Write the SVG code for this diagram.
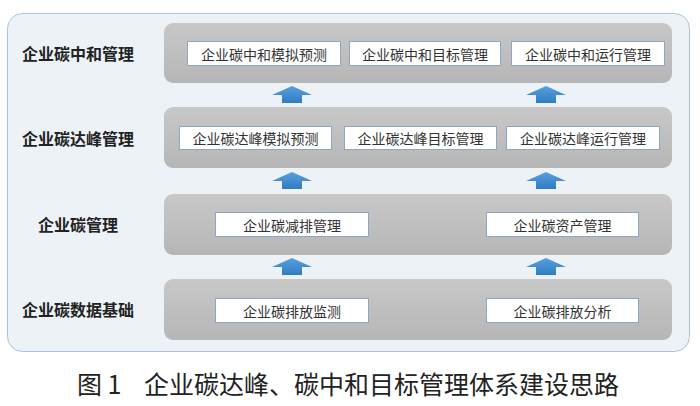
<svg xmlns="http://www.w3.org/2000/svg" width="700" height="406" viewBox="0 0 700 406">
<defs>
<linearGradient id="band" x1="0" y1="0" x2="0" y2="1">
<stop offset="0" stop-color="#c8c8c8"/>
<stop offset="1" stop-color="#b6b6b6"/>
</linearGradient>
<linearGradient id="arr" x1="0" y1="0" x2="0" y2="1">
<stop offset="0" stop-color="#5a9fdc"/>
<stop offset="1" stop-color="#2f7cc4"/>
</linearGradient>
<path id="up" d="M0,0 L20,9 L10,9 L10,17 L-10,17 L-10,9 L-20,9 Z" fill="url(#arr)"/>
</defs>
<style>
.band{fill:url(#band);}
.box{fill:#ffffff;stroke:#8fa6c0;stroke-width:1;}
.t{font-family:"Noto Sans CJK SC",sans-serif;font-size:14px;fill:#333;text-anchor:middle;dominant-baseline:central;}
.lab{font-family:"Noto Sans CJK SC",sans-serif;font-size:16px;font-weight:bold;fill:#222;text-anchor:middle;dominant-baseline:central;}
.cap{font-family:"Noto Sans CJK SC",sans-serif;font-size:25px;fill:#222;dominant-baseline:central;}
</style>
<rect width="700" height="406" fill="#ffffff"/>
<rect x="7.5" y="13.5" width="682" height="338" rx="15" fill="#edf2f7" stroke="#a9c3dc" stroke-width="1"/>

<g id="layer1">
<text class="lab" x="78" y="53">企业碳中和管理</text>
<rect class="band" x="164" y="23" width="508" height="60" rx="9"/>
<g id="n1a"><rect class="box" x="187.5" y="41.5" width="153" height="24"/><text class="t" x="264" y="53.5">企业碳中和模拟预测</text></g>
<g id="n1b"><rect class="box" x="349.5" y="41.5" width="151" height="24"/><text class="t" x="425" y="53.5">企业碳中和目标管理</text></g>
<g id="n1c"><rect class="box" x="511.5" y="41.5" width="153" height="24"/><text class="t" x="588" y="53.5">企业碳中和运行管理</text></g>
</g>

<g id="layer2">
<text class="lab" x="78" y="138">企业碳达峰管理</text>
<rect class="band" x="164" y="107" width="508" height="61" rx="9"/>
<g id="n2a"><rect class="box" x="179.5" y="126.5" width="152" height="23"/><text class="t" x="255.5" y="138">企业碳达峰模拟预测</text></g>
<g id="n2b"><rect class="box" x="344.5" y="126.5" width="152" height="23"/><text class="t" x="420.5" y="138">企业碳达峰目标管理</text></g>
<g id="n2c"><rect class="box" x="506.5" y="126.5" width="153" height="23"/><text class="t" x="583" y="138">企业碳达峰运行管理</text></g>
</g>

<g id="layer3">
<text class="lab" x="78" y="224">企业碳管理</text>
<rect class="band" x="164" y="194" width="508" height="61" rx="9"/>
<g id="n3a"><rect class="box" x="215.5" y="212.5" width="153" height="24"/><text class="t" x="292" y="224.5">企业碳减排管理</text></g>
<g id="n3b"><rect class="box" x="486.5" y="212.5" width="152" height="24"/><text class="t" x="562.5" y="224.5">企业碳资产管理</text></g>
</g>

<g id="layer4">
<text class="lab" x="78" y="309">企业碳数据基础</text>
<rect class="band" x="164" y="279" width="508" height="61" rx="9"/>
<g id="n4a"><rect class="box" x="215.5" y="298.5" width="153" height="24"/><text class="t" x="292" y="310.5">企业碳排放监测</text></g>
<g id="n4b"><rect class="box" x="486.5" y="298.5" width="152" height="24"/><text class="t" x="562.5" y="310.5">企业碳排放分析</text></g>
</g>

<g id="connectors">
<use href="#up" x="292" y="86"/>
<use href="#up" x="546" y="86"/>
<use href="#up" x="292" y="172"/>
<use href="#up" x="546" y="172"/>
<use href="#up" x="292" y="258"/>
<use href="#up" x="546" y="258"/>
</g>

<text class="cap" y="383"><tspan x="77">图 1</tspan><tspan x="144">企业碳达峰、碳中和目标管理体系建设思路</tspan></text>
</svg>
